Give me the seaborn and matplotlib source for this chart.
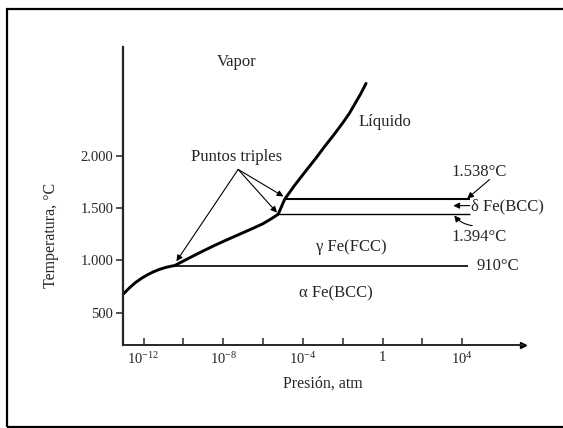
"""
Diagrama de fases del hierro puro (presion vs temperatura)
"""

import numpy as np
import pandas as pd
import matplotlib
matplotlib.use('Agg')
import matplotlib.pyplot as plt
from matplotlib.patches import Rectangle
import seaborn as sns

# boundary curve: alpha/vapor -> gamma/vapor -> delta/vapor -> liquid/vapor (log10 atm, degC)
curve_logp = [-13.0, -12.7, -12.4, -12.1, -11.8, -11.5, -11.2, -10.9, -10.6, -10.43,
              -10.0, -9.5, -9.0, -8.5, -8.0, -7.5, -7.0, -6.5, -6.0, -5.6, -5.24,
              -4.91, -4.4, -3.82, -3.35, -2.92, -2.45, -2.01, -1.68, -1.37, -1.1, -0.83]
curve_temp = [680, 738, 788, 828, 862, 890, 913, 931, 944, 950,
              993, 1042, 1090, 1136, 1180, 1222, 1264, 1306, 1350, 1395, 1440,
              1585, 1720, 1862, 1975, 2084, 2198, 2310, 2400, 2501, 2590, 2690]

# horizontal phase lines (temperature, start log p, end log p)
line_temp = [950, 1440, 1585]
line_start = [-10.43, -5.24, -4.91]
line_end = [4.3, 4.38, 4.38]
line_width = [1.2, 1.0, 1.5]

x_ticks = [-12, -10, -8, -6, -4, -2, 0, 2, 4]
x_tick_labels = [r'$10^{-12}$', '', r'$10^{-8}$', '', r'$10^{-4}$', '', '1', '', r'$10^{4}$']
y_ticks = [500, 1000, 1500, 2000]
y_tick_labels = ['500', '1.000', '1.500', '2.000']

sns.set_style('ticks')
plt.rcParams['font.family'] = ['Liberation Serif', 'DejaVu Serif']
plt.rcParams['mathtext.fontset'] = 'custom'
plt.rcParams['mathtext.rm'] = 'Liberation Serif'
plt.rcParams['mathtext.it'] = 'Liberation Serif:italic'

fig = plt.figure(figsize=(5.63, 4.28), dpi=100)
ax = fig.add_axes([0.2185, 0.195, 0.7105, 0.696])

df = pd.DataFrame({'p': np.power(10.0, curve_logp), 'T': curve_temp})
sns.lineplot(data=df, x='p', y='T', ax=ax, color='black', linewidth=2.1,
             estimator=None, sort=False, solid_joinstyle='round', solid_capstyle='round')

for t, s, e, w in zip(line_temp, line_start, line_end, line_width):
    ax.hlines(t, 10 ** s, 10 ** e, color='black', linewidth=w)

ax.set_xscale('log')
ax.set_xlim(10 ** -13.03, 10 ** 7.05)
ax.set_ylim(195, 3041)
ax.set_xticks([10.0 ** v for v in x_ticks])
ax.set_xticklabels(x_tick_labels)
ax.xaxis.set_minor_locator(matplotlib.ticker.NullLocator())
ax.set_yticks(y_ticks)
ax.set_yticklabels(y_tick_labels)

sns.despine(ax=ax)
ax.spines['left'].set_linewidth(1.6)
ax.spines['bottom'].set_linewidth(1.4)
ax.tick_params(axis='x', direction='in', length=5, width=1.1, labelsize=10.5, pad=5)
ax.tick_params(axis='y', direction='out', length=5, width=1.1, labelsize=10.5, pad=2)

ax.set_xlabel('Presión, atm', fontsize=11.5)
ax.set_ylabel('Temperatura, °C', fontsize=11.5)
ax.xaxis.set_label_coords(0.5, -0.105)
ax.yaxis.set_label_coords(-0.16, 0.365)

# arrow at the end of the pressure axis
ax.plot(1, 0, marker='>', color='black', markersize=5, transform=ax.transAxes, clip_on=False)

# region labels
fs = 12
ax.text(10 ** -7.33, 2898, 'Vapor', fontsize=fs, ha='center', va='center')
ax.text(10 ** 0.10, 2325, 'Líquido', fontsize=fs, ha='center', va='center')
ax.text(10 ** -1.56, 1130, 'γ Fe(FCC)', fontsize=fs, ha='center', va='center')
ax.text(10 ** -2.33, 685, 'α Fe(BCC)', fontsize=fs, ha='center', va='center')
ax.text(10 ** 4.72, 950, '910°C', fontsize=fs, ha='left', va='center')
ax.text(10 ** 4.83, 1847, '1.538°C', fontsize=fs, ha='center', va='center')
ax.text(10 ** 4.83, 1220, '1.394°C', fontsize=fs, ha='center', va='center')
ax.text(10 ** 4.45, 1513, 'δ Fe(BCC)', fontsize=fs, ha='left', va='center')

# triple points
arrow = dict(arrowstyle='-|>', color='black', lw=0.8, mutation_scale=9, shrinkA=0, shrinkB=0)
ax.text(10 ** -7.33, 1990, 'Puntos triples', fontsize=fs, ha='center', va='center')
origin = (10 ** -7.25, 1868)
for tx, ty in [(10 ** -10.35, 990), (10 ** -5.3, 1455), (10 ** -4.98, 1610)]:
    ax.annotate('', xy=(tx, ty), xytext=origin, arrowprops=arrow)

# pointers for the right hand labels
ax.annotate('', xy=(10 ** 4.25, 1590), xytext=(10 ** 5.37, 1771), arrowprops=arrow)
ax.annotate('', xy=(10 ** 3.55, 1522), xytext=(10 ** 4.38, 1522), arrowprops=arrow)
ax.annotate('', xy=(10 ** 3.6, 1428), xytext=(10 ** 4.5, 1331),
            arrowprops=dict(arrow, connectionstyle='arc3,rad=-0.2'))

# scanned page frame
fig.add_artist(Rectangle((7 / 563, 1.3 / 428), 1.2, 1 - 10.6 / 428, transform=fig.transFigure,
                         fill=False, edgecolor='black', linewidth=1.6))

plt.savefig('out.png', dpi=100)
